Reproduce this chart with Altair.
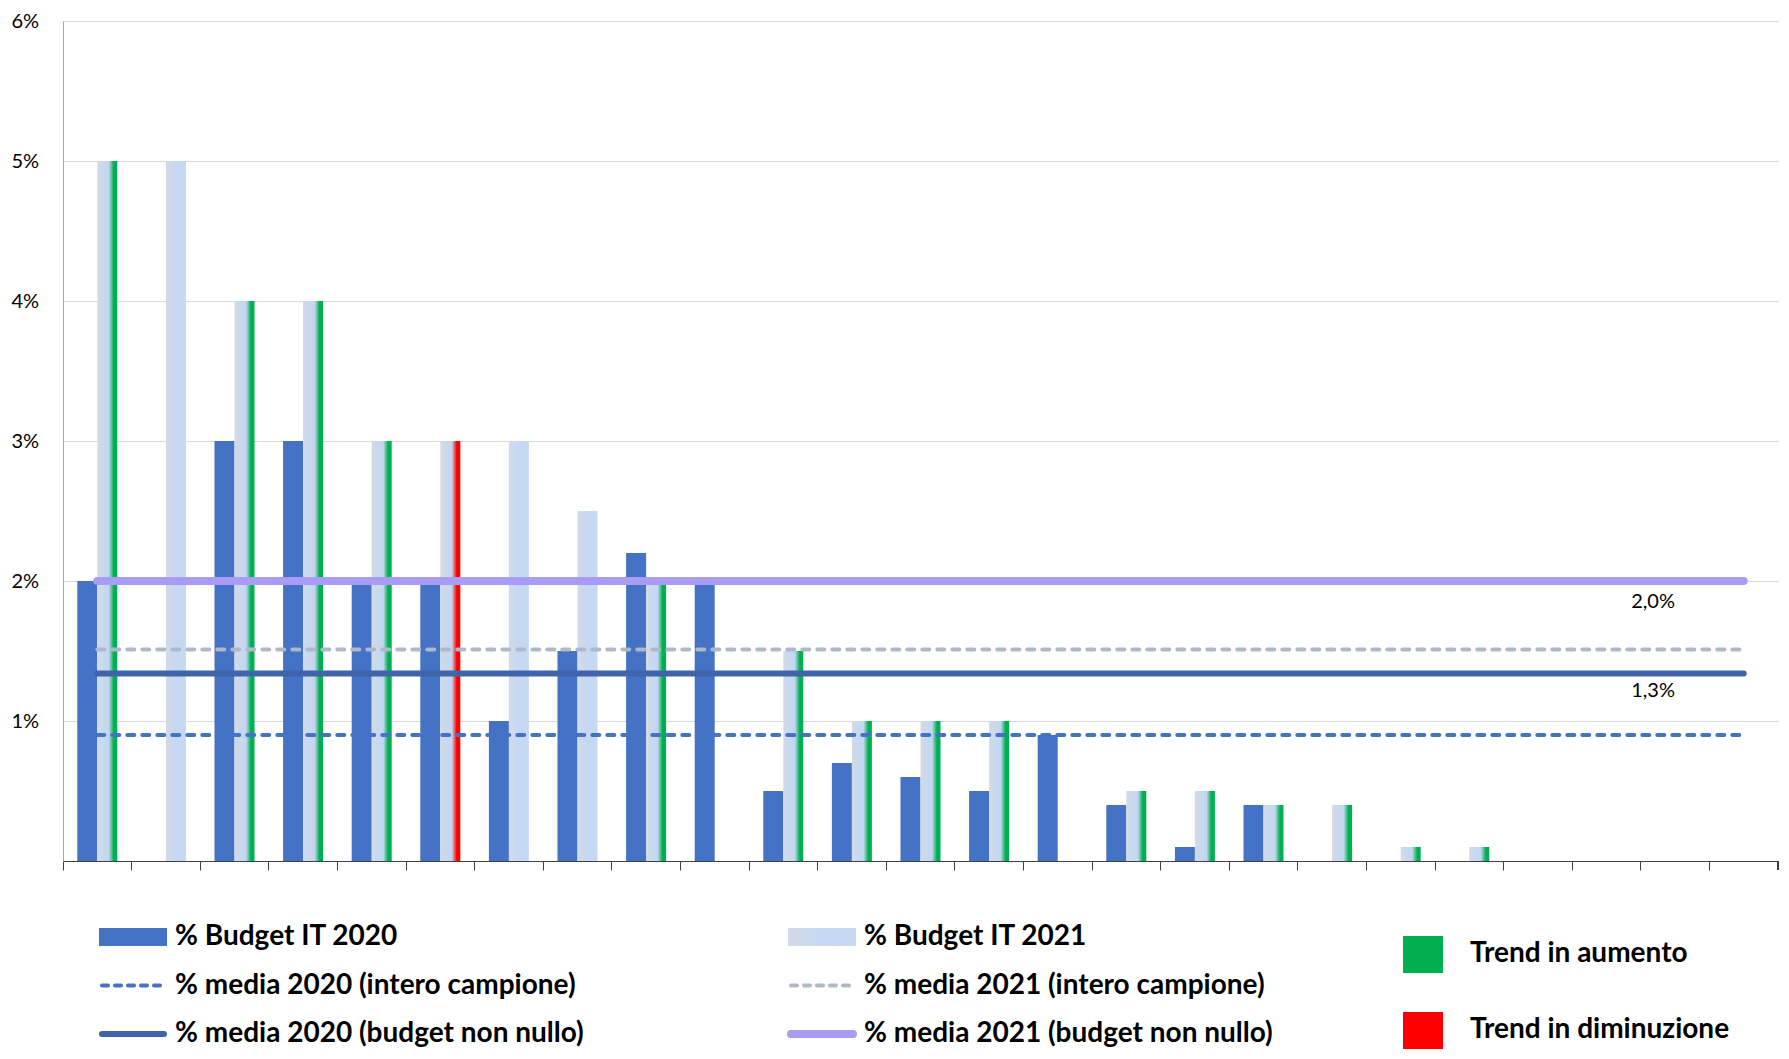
import altair as alt
import pandas as pd

# ---------------- data ----------------
categories = [f"C{i:02d}" for i in range(1, 26)]
budget_2020 = [2.0, 0.0, 3.0, 3.0, 2.0, 2.0, 1.0, 1.5, 2.2, 2.0, 0.5, 0.7, 0.6,
               0.5, 0.9, 0.4, 0.1, 0.4, 0.0, 0.0, 0.0, 0.0, 0.0, 0.0, 0.0]
budget_2021 = [5.0, 5.0, 4.0, 4.0, 3.0, 3.0, 3.0, 2.5, 2.0, 0.0, 1.5, 1.0, 1.0,
               1.0, 0.0, 0.5, 0.5, 0.4, 0.4, 0.1, 0.1, 0.0, 0.0, 0.0, 0.0]
trend = ["up", "none", "up", "up", "up", "down", "none", "none", "up", "none",
         "up", "up", "up", "up", "none", "up", "up", "up", "up", "up", "up",
         "none", "none", "none", "none"]

avg_keys = ["m20_ic", "m21_ic", "m20_nn", "m21_nn"]
avg_values = [0.90, 1.51, 1.34, 2.00]
avg_labels = ["", "", "1,3%", "2,0%"]
label_category = "C24"

legend_labels = ["% Budget IT 2020", "% media 2020 (intero campione)", "% media 2020 (budget non nullo)",
                 "% Budget IT 2021", "% media 2021 (intero campione)", "% media 2021 (budget non nullo)",
                 "Trend in aumento", "Trend in diminuzione"]
legend_keys = ["b20", "m20_ic", "m20_nn", "b21", "m21_ic", "m21_nn", "up", "down"]
legend_cols = [0, 0, 0, 1, 1, 1, 2, 2]
legend_rows = [0, 1, 2, 0, 1, 2, 0, 2]

# ---------------- tables ----------------
bars = pd.DataFrame({"cat": categories, "v2020": budget_2020, "v2021": budget_2021, "trend": trend})
lines = pd.DataFrame([
    {"key": k, "cat": c, "value": v}
    for k, v in zip(avg_keys, avg_values)
    for c in (categories[0], categories[-1])
])
labels = pd.DataFrame({"key": avg_keys, "value": avg_values, "label": avg_labels, "cat": label_category})
labels = labels[labels["label"] != ""]
legend_df = pd.DataFrame({"label": legend_labels, "key": legend_keys, "col": legend_cols, "row": legend_rows})

W, H = 1715, 840
FONT = "Lato"

def grad(end_color):
    return alt.LinearGradient(
        gradient="linear", x1=0, x2=1, y1=0, y2=0,
        stops=[alt.GradientStop(color="#D3DAE6", offset=0),
               alt.GradientStop(color="#C4D8F3", offset=0.45),
               alt.GradientStop(color="#C2D6EF", offset=0.58),
               alt.GradientStop(color=end_color, offset=0.82),
               alt.GradientStop(color=end_color, offset=1)])

plain_grad = alt.LinearGradient(
    gradient="linear", x1=0, x2=1, y1=0, y2=0,
    stops=[alt.GradientStop(color="#D3DAE6", offset=0),
           alt.GradientStop(color="#C4D8F3", offset=0.55),
           alt.GradientStop(color="#C6D9F1", offset=1)])

x_enc = alt.X("cat:N", sort=categories, title=None,
              scale=alt.Scale(paddingInner=0, paddingOuter=0),
              axis=alt.Axis(labels=False, bandPosition=0, tickSize=9, tickColor="#404040",
                            domainColor="#404040", grid=False, minExtent=10, maxExtent=10))
y_scale = alt.Scale(domain=[0, 6], nice=False)
y_axis = alt.Axis(values=[0, 1, 2, 3, 4, 5, 6], labelExpr="datum.value == 0 ? '' : datum.value + '%'",
                  ticks=False, tickSize=0, labelPadding=52, labelAlign="left", labelFontSize=20,
                  labelColor="#000000", labelFont=FONT, domainColor="#A6A6A6",
                  gridColor="#D9D9D9", minExtent=55, maxExtent=55, title=None)

base = alt.Chart(bars)
b20 = base.mark_bar(color="#4472C4", width=20, xOffset=-10).encode(
    x=x_enc, y=alt.Y("v2020:Q", scale=y_scale, axis=y_axis))

def b21(kind, g):
    return base.transform_filter(alt.datum.trend == kind).mark_bar(
        color=g, width=20, xOffset=10).encode(x=x_enc, y=alt.Y("v2021:Q", scale=y_scale))

bars21 = [b21("none", plain_grad), b21("up", grad("#00B050")), b21("down", grad("#FF0000"))]

line_styles = {
    "m20_ic": dict(color="#4472C4", strokeWidth=4, strokeDash=[7, 8], strokeCap="round"),
    "m21_ic": dict(color="#ADB9CA", strokeWidth=4, strokeDash=[7, 8], strokeCap="round"),
    "m20_nn": dict(color="#3F64A9", strokeWidth=6, strokeCap="round"),
    "m21_nn": dict(color="#A89CF5", strokeWidth=8, strokeCap="round"),
}
line_layers = [
    alt.Chart(lines).transform_filter(alt.datum.key == k).mark_line(**line_styles[k]).encode(
        x=alt.X("cat:N", sort=categories), y=alt.Y("value:Q", scale=y_scale))
    for k in avg_keys
]

label_dy = {"m21_nn": 21, "m20_nn": 18}
text_layers = [
    alt.Chart(labels).transform_filter(alt.datum.key == k).mark_text(
        dx=-22, dy=d, fontSize=20, font=FONT, color="#000000").encode(
        x=alt.X("cat:N", sort=categories), y=alt.Y("value:Q", scale=y_scale), text="label:N")
    for k, d in label_dy.items()
]

end_tick = alt.Chart(bars).mark_rule(color="#404040").encode(
    x=alt.value(W), y=alt.value(H), y2=alt.value(H + 9))

main = alt.layer(b20, *bars21, *line_layers, *text_layers, end_tick).properties(width=W, height=H)

# ---------------- legend ----------------
lx = alt.X("col:Q", scale=alt.Scale(domain=[0, 1, 2], range=[36, 725, 1340]), axis=None)
ly = alt.Y("row:Q", scale=alt.Scale(domain=[0, 2], range=[66, 163]), axis=None)
lbase = alt.Chart(legend_df)

def sel(*keys):
    return lbase.transform_filter(alt.FieldOneOfPredicate(field="key", oneOf=list(keys)))

sw20 = sel("b20").mark_rect(color="#4472C4", x2Offset=68, yOffset=-9, y2Offset=9).encode(
    x=lx, x2="col:Q", y=ly, y2="row:Q")
sw21 = sel("b21").mark_rect(color=plain_grad, x2Offset=68, yOffset=-9, y2Offset=9).encode(
    x=lx, x2="col:Q", y=ly, y2="row:Q")
sw_lines = []
for k in avg_keys:
    st = dict(line_styles[k])
    if k.endswith("ic"):
        st["strokeDash"] = [6, 7]
    sw_lines.append(sel(k).mark_rule(**st, xOffset=3, x2Offset=65).encode(x=lx, x2="col:Q", y=ly))

sw_up = sel("up").mark_rect(color="#00B050", x2Offset=40, yOffset=-1, y2Offset=36).encode(
    x=lx, x2="col:Q", y=ly, y2="row:Q")
sw_down = sel("down").mark_rect(color="#FF0000", x2Offset=40, yOffset=-22, y2Offset=15).encode(
    x=lx, x2="col:Q", y=ly, y2="row:Q")

txt_main = sel("b20", "m20_ic", "m20_nn", "b21", "m21_ic", "m21_nn").mark_text(
    align="left", baseline="middle", dx=76, fontSize=28, fontWeight="bold", font=FONT,
    color="#000000", clip=True).encode(x=lx, y=ly, text="label:N")
txt_up = sel("up").mark_text(align="left", baseline="middle", dx=67, dy=17, fontSize=28,
                             fontWeight="bold", font=FONT, color="#000000").encode(x=lx, y=ly, text="label:N")
txt_down = sel("down").mark_text(align="left", baseline="middle", dx=67, dy=-4, fontSize=28,
                                 fontWeight="bold", font=FONT, color="#000000").encode(x=lx, y=ly, text="label:N")

legend = alt.layer(sw20, sw21, *sw_lines, sw_up, sw_down, txt_main, txt_up, txt_down).properties(
    width=W, height=179)

chart = alt.vconcat(main, legend, spacing=0).configure(
    padding={"top": 3, "left": 0, "right": 0, "bottom": 0}, font=FONT).configure_view(stroke=None)

chart.save("out.html", embed_options={"renderer": "svg", "actions": False})
